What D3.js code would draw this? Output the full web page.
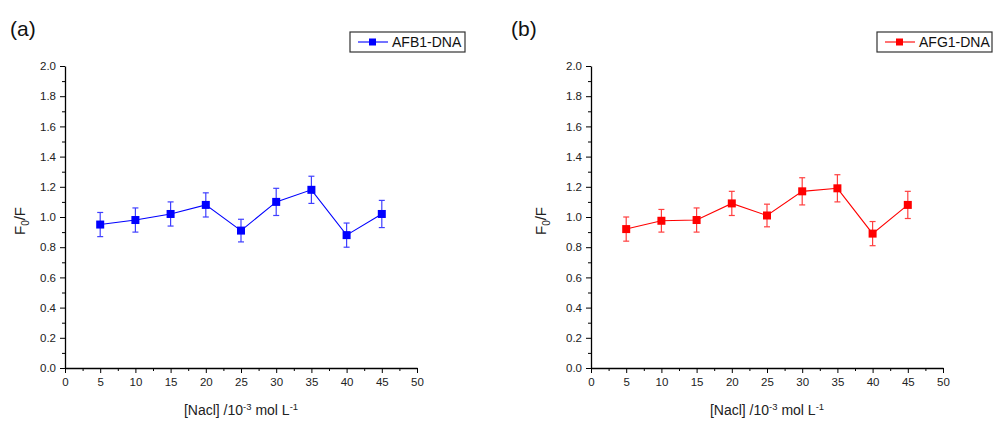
<!DOCTYPE html>
<html>
<head>
<meta charset="utf-8">
<script src="https://cdn.jsdelivr.net/npm/d3@7"></script>
<style>
  body { margin: 0; background: #fff; }
  svg { display: block; font-family: "Liberation Sans", Arial, sans-serif; }
</style>
</head>
<body>
<svg id="chart" width="994" height="423"></svg>
<script>
// NaCl concentration (10^-3 mol/L)
const nacl = [5, 10, 15, 20, 25, 30, 35, 40, 45];

const afb1 = [0.95, 0.98, 1.02, 1.08, 0.91, 1.10, 1.18, 0.88, 1.02];
const afb1Err = [0.08, 0.08, 0.08, 0.08, 0.075, 0.09, 0.09, 0.08, 0.09];

const afg1 = [0.92, 0.975, 0.98, 1.09, 1.01, 1.17, 1.19, 0.89, 1.08];
const afg1Err = [0.08, 0.075, 0.08, 0.08, 0.075, 0.09, 0.09, 0.08, 0.09];

const xTicks = [0, 5, 10, 15, 20, 25, 30, 35, 40, 45, 50];
const yTicks = [0, 0.2, 0.4, 0.6, 0.8, 1.0, 1.2, 1.4, 1.6, 1.8, 2.0];

const panels = [
    { tag: "(a)", name: "AFB1-DNA", values: afb1, errs: afb1Err, color: "#0000ff", left: 65, tagX: 10, yTitleX: 20, legendX: 350 },
    { tag: "(b)", name: "AFG1-DNA", values: afg1, errs: afg1Err, color: "#ff0000", left: 591, tagX: 511, yTitleX: 541, legendX: 877 }
];

const svg = d3.select("#chart");
const plotW = 352, plotTop = 66, plotBottom = 368;

function drawPanel(p) {
    const x = d3.scaleLinear().domain([0, 50]).range([p.left, p.left + plotW]);
    const y = d3.scaleLinear().domain([0, 2]).range([plotBottom, plotTop]);
    const g = svg.append("g");

    // axes
    const xAxis = d3.axisBottom(x).tickValues(xTicks).tickFormat(d3.format("d")).tickSize(5).tickSizeOuter(0);
    const gx = g.append("g").attr("transform", `translate(0,${plotBottom})`).call(xAxis);
    const xMinor = d3.axisBottom(x).tickValues(d3.range(2.5, 50, 5)).tickFormat("").tickSize(3).tickSizeOuter(0);
    g.append("g").attr("transform", `translate(0,${plotBottom})`).call(xMinor).select(".domain").remove();

    const yAxis = d3.axisLeft(y).tickValues(yTicks).tickFormat(d3.format(".1f")).tickSize(5).tickSizeOuter(0);
    const gy = g.append("g").attr("transform", `translate(${p.left},0)`).call(yAxis);
    const yMinor = d3.axisLeft(y).tickValues(d3.range(0.1, 2, 0.2)).tickFormat("").tickSize(3).tickSizeOuter(0);
    g.append("g").attr("transform", `translate(${p.left},0)`).call(yMinor).select(".domain").remove();

    g.selectAll(".domain").attr("stroke", "#000").attr("stroke-width", 1.3);
    g.selectAll(".tick line").attr("stroke", "#000");
    gx.selectAll("text").attr("font-size", 11.5).attr("fill", "#222").attr("font-family", "Liberation Sans, Arial").attr("dy", "0.9em");
    gy.selectAll("text").attr("font-size", 11.5).attr("fill", "#222").attr("font-family", "Liberation Sans, Arial").attr("dx", "-1px");

    // error bars
    const eb = g.append("g").attr("stroke", p.color).attr("stroke-width", 1.2).attr("opacity", 0.75);
    nacl.forEach((c, i) => {
        const cx = x(c), hi = y(p.values[i] + p.errs[i]), lo = y(p.values[i] - p.errs[i]);
        eb.append("line").attr("x1", cx).attr("x2", cx).attr("y1", hi).attr("y2", lo);
        eb.append("line").attr("x1", cx - 3).attr("x2", cx + 3).attr("y1", hi).attr("y2", hi);
        eb.append("line").attr("x1", cx - 3).attr("x2", cx + 3).attr("y1", lo).attr("y2", lo);
    });

    // line + markers
    const line = d3.line().x((d, i) => x(nacl[i])).y(d => y(d));
    g.append("path").datum(p.values).attr("d", line)
        .attr("fill", "none").attr("stroke", p.color).attr("stroke-width", 1.1);
    g.selectAll(".mk").data(p.values).enter().append("rect")
        .attr("x", (d, i) => x(nacl[i]) - 4).attr("y", d => y(d) - 4)
        .attr("width", 8).attr("height", 8).attr("fill", p.color);

    // panel tag
    svg.append("text").attr("x", p.tagX).attr("y", 36)
        .attr("font-size", 21).attr("fill", "#111").text(p.tag);

    // legend
    const lg = svg.append("g").attr("transform", `translate(${p.legendX},32)`);
    lg.append("rect").attr("width", 115).attr("height", 20)
        .attr("fill", "#fff").attr("stroke", "#333").attr("stroke-width", 1.2);
    lg.append("line").attr("x1", 8).attr("x2", 38).attr("y1", 10).attr("y2", 10)
        .attr("stroke", p.color).attr("stroke-width", 1.1);
    lg.append("rect").attr("x", 19).attr("y", 6.5).attr("width", 7).attr("height", 7).attr("fill", p.color);
    lg.append("text").attr("x", 42).attr("y", 15).attr("font-size", 14).attr("fill", "#111").text(p.name);

    // axis titles
    const cx = (p.left + p.left + plotW) / 2;
    const xt = svg.append("text").attr("x", cx).attr("y", 415).attr("text-anchor", "middle")
        .attr("font-size", 14).attr("fill", "#222");
    xt.append("tspan").text("[Nacl] /10");
    xt.append("tspan").attr("dy", -5).attr("font-size", 9.5).text("-3");
    xt.append("tspan").attr("dy", 5).text(" mol L");
    xt.append("tspan").attr("dy", -5).attr("font-size", 9.5).text("-1");

    const yt = svg.append("text").attr("transform", `translate(${p.yTitleX + 5},221) rotate(-90)`)
        .attr("text-anchor", "middle").attr("font-size", 15).attr("fill", "#222");
    yt.append("tspan").text("F");
    yt.append("tspan").attr("dy", 4).attr("font-size", 10).text("0");
    yt.append("tspan").attr("dy", -4).text("/F");
}

panels.forEach(drawPanel);
</script>
</body>
</html>
